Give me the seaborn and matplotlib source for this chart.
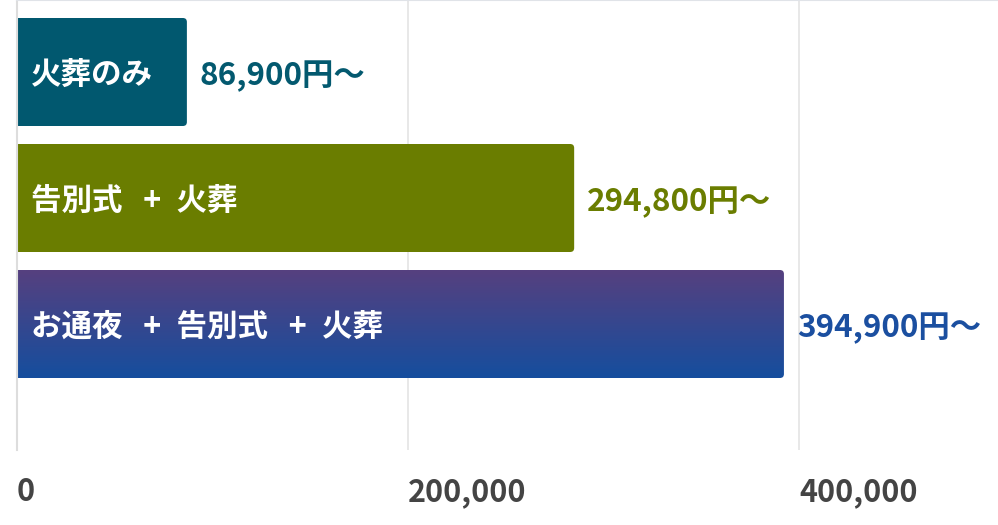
import numpy as np
import matplotlib
matplotlib.use("Agg")
import matplotlib.pyplot as plt
from matplotlib.patches import FancyBboxPatch
from matplotlib.colors import LinearSegmentedColormap
import seaborn as sns

# データ
plans = ["火葬のみ", "告別式   +\u2002火葬", "お通夜   +\u2002告別式   +\u2002火葬"]
bar_values = [86900, 285000, 392300]
price_labels = ["86,900円〜", "294,800円〜", "394,900円〜"]
x_ticks = [0, 200000, 400000]
x_tick_labels = ["0", "200,000", "400,000"]

bar_colors = ["#01586f", "#6a7d00", "#3a4590"]
label_colors = ["#03596f", "#6a7d00", "#1b4fa0"]
grad_top, grad_bottom = "#56407f", "#154e9e"

sns.set_theme(style="white")
plt.rcParams["font.family"] = ["Noto Sans CJK JP", "DejaVu Sans"]

W, H, DPI = 998, 525, 100
fig = plt.figure(figsize=(W / DPI, H / DPI), dpi=DPI)
ax = fig.add_axes([17 / W, (H - 450) / H, (W - 17) / W, 450 / H])

sns.barplot(x=bar_values, y=plans, hue=plans, palette=bar_colors, orient="h",
            width=108 / 126, legend=False, ax=ax, saturation=1)

ax.set_xlim(0, 501800)
ax.set_ylim(3.0, -72 / 126)

# 角丸の棒に置き換え
px_x = 501800 / (W - 17)
px_y = (3.0 + 72 / 126) / 450
r = 4 * px_x
asp = (4 * px_y) / r
cmap = LinearSegmentedColormap.from_list("grad", [grad_top, grad_bottom])
for i, p in enumerate(list(ax.patches)):
    x0, y0, w, h = p.get_x(), p.get_y(), p.get_width(), p.get_height()
    p.set_visible(False)
    box = FancyBboxPatch((x0 - 3 * r, y0), w + 3 * r, h,
                         boxstyle=f"round,pad=0,rounding_size={r}",
                         mutation_aspect=asp, facecolor=bar_colors[i],
                         edgecolor="none", zorder=2)
    ax.add_patch(box)
    if i == 2:
        box.set_facecolor("none")
        grad = np.linspace(0, 1, 256).reshape(-1, 1)
        im = ax.imshow(grad, cmap=cmap, aspect="auto", extent=[x0, x0 + w, y0 + h, y0],
                       zorder=2, interpolation="bilinear")
        im.set_clip_path(box)

ax.set_xlim(0, 501800)
ax.set_ylim(3.0, -72 / 126)

# ラベル
for i, (name, val) in enumerate(zip(plans, bar_values)):
    ax.annotate(name, (0, i), xytext=(14 * 0.72, -3 * 0.72), textcoords="offset points",
                ha="left", va="center", color="white", fontsize=22,
                fontweight="bold", zorder=3)
    ax.annotate(price_labels[i], (val, i), xytext=(13 * 0.72, -4 * 0.72), textcoords="offset points",
                ha="left", va="center", color=label_colors[i], fontsize=22.6,
                fontweight="bold", zorder=3)

# 軸
ax.set_xticks(x_ticks)
ax.set_xticklabels(x_tick_labels, ha="left", color="#444444", fontsize=22, fontweight="bold")
ax.set_yticks([])
ax.set_xlabel("")
ax.set_ylabel("")
ax.tick_params(axis="x", length=0, pad=19)
ax.grid(axis="x", color="#e2e2e2", linewidth=1.1, zorder=0)
ax.set_axisbelow(True)
for s in ["right", "bottom"]:
    ax.spines[s].set_visible(False)
ax.spines["left"].set_color("#dddddd")
ax.spines["left"].set_linewidth(1.5)
ax.spines["top"].set_color("#e0e3e8")
ax.spines["top"].set_linewidth(1.5)

fig.savefig("out.png", dpi=DPI)
